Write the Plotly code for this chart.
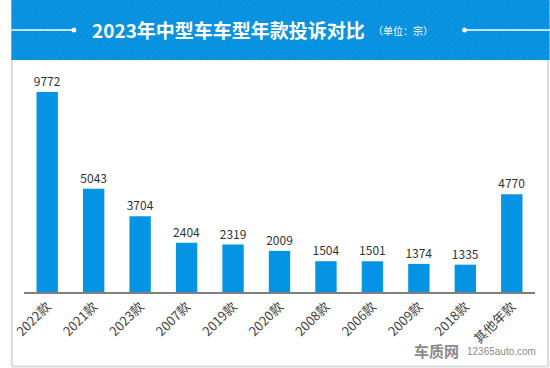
import plotly.graph_objects as go

categories = ["2022款", "2021款", "2023款", "2007款", "2019款", "2020款",
              "2008款", "2006款", "2009款", "2018款", "其他年款"]
complaints = [9772, 5043, 3704, 2404, 2319, 2009, 1504, 1501, 1374, 1335, 4770]

title_text = "2023年中型车车型年款投诉对比"
unit_text = "（单位：宗）"

W, H = 550, 368
L, R, T, B = 13, 15, 62, 76
PW = W - L - R
PH = H - T - B


def px(X):
    return (X - L) / PW


def py(Y):
    return (H - B - Y) / PH


FONT = "Noto Sans CJK SC, Microsoft YaHei, sans-serif"
BLUE = "#0593e3"

fig = go.Figure()
fig.add_trace(go.Bar(
    x=categories, y=complaints,
    marker=dict(color=BLUE, line=dict(width=0)),
    text=[str(v) for v in complaints],
    textposition="outside",
    constraintext="none",
    textfont=dict(size=12, color="#333333", family=FONT),
    cliponaxis=False,
    hoverinfo="x+y",
))

shapes = []
shapes.append(dict(type="rect", xref="paper", yref="paper",
                   x0=px(0), x1=px(W), y0=py(60), y1=py(0),
                   fillcolor="#0590e0", line=dict(width=0), layer="below"))
for k in range(-70, W + 10, 6):
    shapes.append(dict(type="line", xref="paper", yref="paper",
                       x0=px(k), y0=py(60), x1=px(k + 60), y1=py(0),
                       line=dict(color="rgba(255,255,255,0.05)", width=1.5),
                       layer="below"))
shapes.append(dict(type="line", xref="paper", yref="paper",
                   x0=px(0), x1=px(64), y0=py(30), y1=py(30),
                   line=dict(color="white", width=1.5)))
shapes.append(dict(type="circle", xref="paper", yref="paper",
                   x0=px(61.5), x1=px(66.5), y0=py(32.5), y1=py(27.5),
                   fillcolor="white", line=dict(width=0)))
shapes.append(dict(type="line", xref="paper", yref="paper",
                   x0=px(465), x1=px(W), y0=py(30), y1=py(30),
                   line=dict(color="white", width=1.5)))
shapes.append(dict(type="circle", xref="paper", yref="paper",
                   x0=px(460.5), x1=px(465.5), y0=py(32.5), y1=py(27.5),
                   fillcolor="white", line=dict(width=0)))
shapes.append(dict(type="line", xref="paper", yref="paper",
                   x0=px(0.5), x1=px(0.5), y0=py(60), y1=py(366.5),
                   line=dict(color="#d9d9d9", width=2)))
shapes.append(dict(type="line", xref="paper", yref="paper",
                   x0=px(548.5), x1=px(548.5), y0=py(60), y1=py(366.5),
                   line=dict(color="#d9d9d9", width=2)))
shapes.append(dict(type="line", xref="paper", yref="paper",
                   x0=px(0.5), x1=px(548.5), y0=py(366.5), y1=py(366.5),
                   line=dict(color="#d9d9d9", width=2)))

annotations = [
    dict(text="<b>" + title_text + "</b>", xref="paper", yref="paper",
         x=px(363), y=py(30), xanchor="right", yanchor="middle",
         showarrow=False, font=dict(size=19, color="white", family=FONT)),
    dict(text=unit_text, xref="paper", yref="paper",
         x=px(367), y=py(31), xanchor="left", yanchor="middle",
         showarrow=False, font=dict(size=10, color="white", family=FONT)),
    dict(text="<b>车质网</b>", xref="paper", yref="paper",
         x=px(459), y=py(350), xanchor="right", yanchor="middle",
         showarrow=False, font=dict(size=15, color="#8a8a8a", family=FONT)),
    dict(text="12365auto.com", xref="paper", yref="paper",
         x=px(464), y=py(351), xanchor="left", yanchor="middle",
         showarrow=False, font=dict(size=10, color="#8a8a8a",
                                    family="Liberation Sans, Arial, sans-serif")),
]

fig.update_layout(
    width=W, height=H,
    margin=dict(l=L, r=R, t=T, b=B),
    paper_bgcolor="white", plot_bgcolor="white",
    showlegend=False,
    bargap=0.54,
    shapes=shapes,
    annotations=annotations,
    xaxis=dict(
        tickangle=-45,
        tickfont=dict(size=13, color="#444444", family=FONT),
        showline=True, linecolor="#7f7f7f", linewidth=1.5,
        ticks="", showgrid=False,
        range=[-0.5, len(categories) - 0.5],
    ),
    yaxis=dict(
        range=[0, 9772 * PH / 200],
        visible=False, showgrid=False, zeroline=False,
    ),
)

fig.write_html("out.html",
               config={"displayModeBar": False},
               post_script="document.body.style.margin='0';document.body.style.padding='0';")
